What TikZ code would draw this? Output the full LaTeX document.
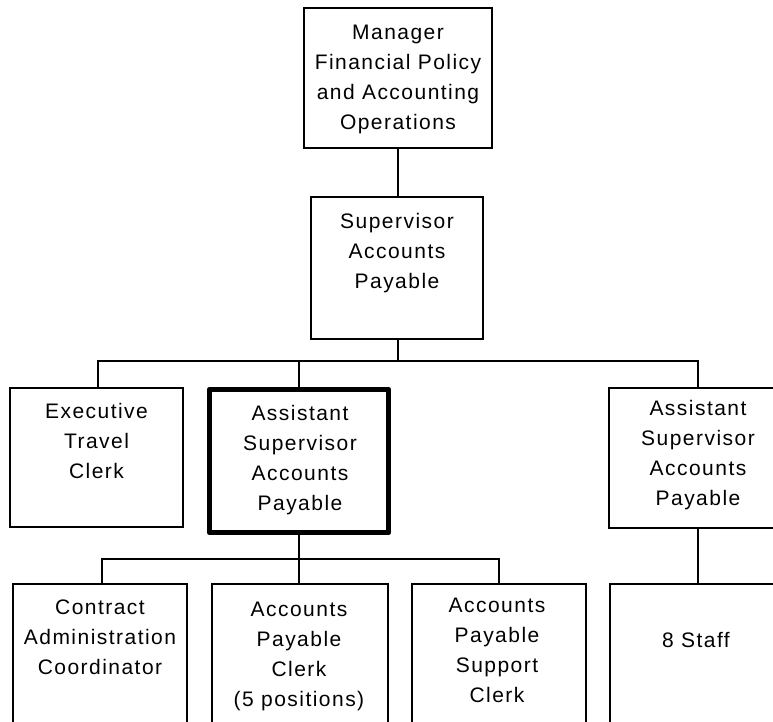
\documentclass[tikz,border=0pt]{standalone}
\usepackage{fontspec}
\newfontfamily\boxfont[LetterSpace=7]{Liberation Sans}
\begin{document}
\begin{tikzpicture}[x=1pt,y=-1pt,
  box/.style={draw=black, line width=1.7pt, inner sep=0pt, outer sep=0pt, rectangle},
  boldbox/.style={box, line width=5pt, line join=round},
  txt/.style={anchor=north, inner sep=0pt, align=center, font={\boxfont\fontsize{21}{30}\selectfont}},
  conn/.style={draw=black, line width=1.7pt}]
\useasboundingbox (0,0) rectangle (773,721);
\fill[white] (0,0) rectangle (773,721);
\clip (0,0) rectangle (773,721);
% boxes
\node[box, minimum width=188, minimum height=140] (mgr) at (398,78) {};
\node[box, minimum width=172, minimum height=142] (sup) at (397,268) {};
\node[box, minimum width=173, minimum height=139] (exec) at (96.5,457.5) {};
\node[boldbox, minimum width=179, minimum height=143.5] (asb) at (299,461) {};
\node[box, minimum width=178, minimum height=140] (ras) at (698,458) {};
\node[box, minimum width=174, minimum height=166] (con) at (100,667) {};
\node[box, minimum width=176, minimum height=166] (clk) at (300,667) {};
\node[box, minimum width=174, minimum height=166] (spt) at (499,667) {};
\node[box, minimum width=176, minimum height=166] (stf) at (698,667) {};
% texts
\node[txt] (tmgr) at (398,25) {Manager\\Financial Policy\\and Accounting\\Operations};
\node[txt] (tsup) at (397,213) {Supervisor\\Accounts\\Payable};
\node[txt] (texec) at (96.5,403) {Executive\\Travel\\Clerk};
\node[txt] (tasb) at (300,405) {Assistant\\Supervisor\\Accounts\\Payable};
\node[txt] (tras) at (698,400) {Assistant\\Supervisor\\Accounts\\Payable};
\node[txt] (tcon) at (100,600) {Contract\\Administration\\Coordinator};
\node[txt] (tclk) at (299,602) {Accounts\\Payable\\Clerk\\(5 positions)};
\node[txt] (tspt) at (497,598) {Accounts\\Payable\\Support\\Clerk};
\node[txt] (tstf) at (696,632) {8 Staff};
% connectors
\coordinate (bus) at (398,361);
\coordinate (sbus) at (299,559);
\draw[conn] (mgr.south) -- (mgr.south |- sup.north);
\draw[conn] (sup.south -| bus) -- (bus);
\draw[conn] ([xshift=1.5pt]exec.north) |- (bus) -| (ras.north);
\draw[conn] (bus) -| (asb.north);
\draw[conn] (asb.south) -- (sbus);
\draw[conn] ([xshift=2pt]con.north) |- (sbus) -| (spt.north);
\draw[conn] (sbus) -- (clk.north -| sbus);
\draw[conn] (ras.south) -- (stf.north);
\end{tikzpicture}
\end{document}
